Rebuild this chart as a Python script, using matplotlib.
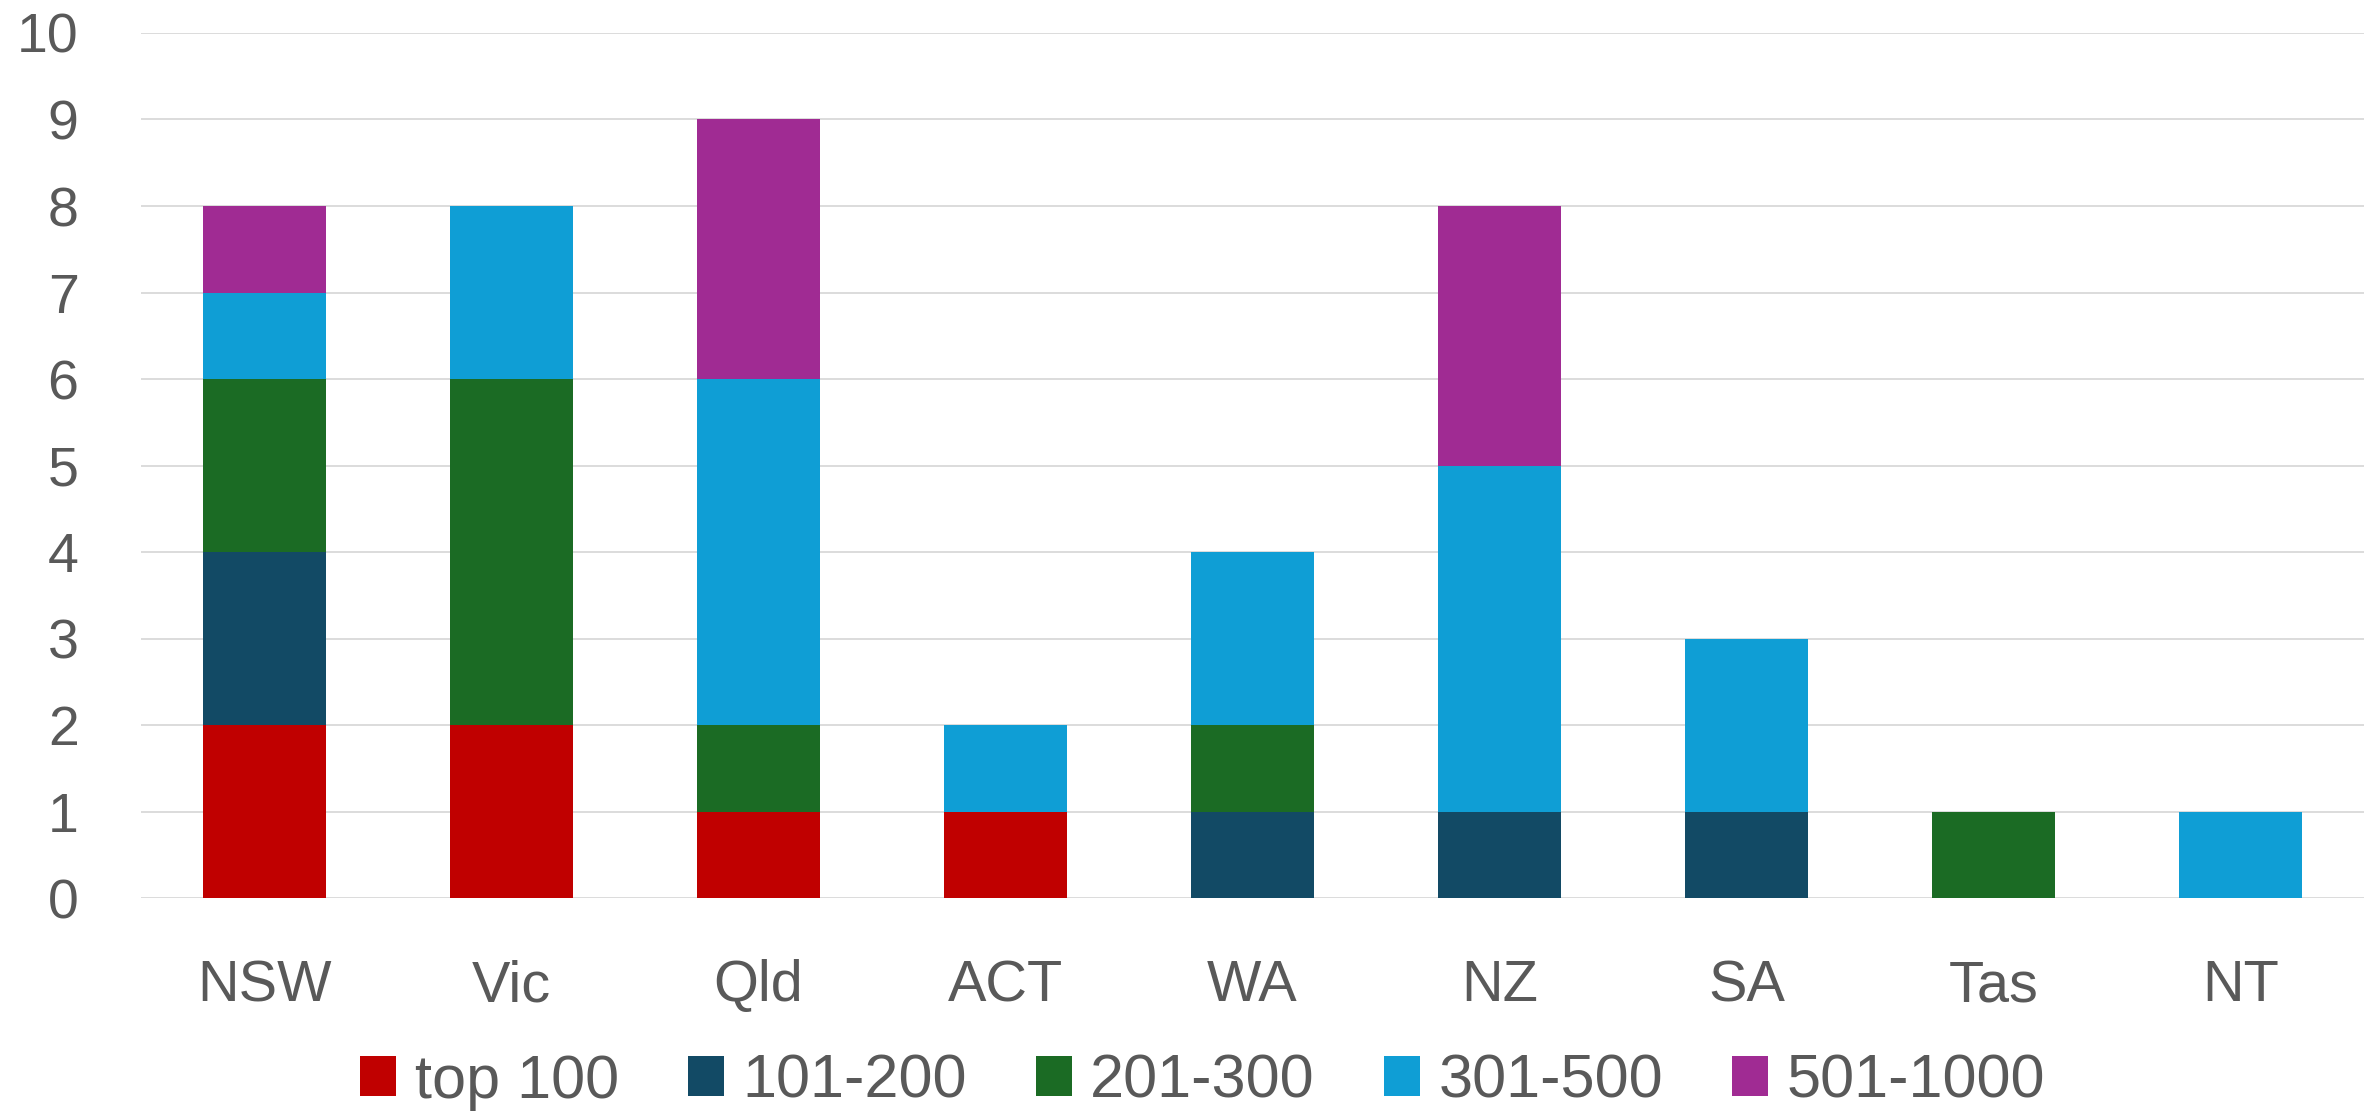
import numpy as np
import matplotlib
matplotlib.use("Agg")
import matplotlib.pyplot as plt

plt.rcParams['font.family'] = ['Liberation Sans', 'DejaVu Sans']

regions = ['NSW', 'Vic', 'Qld', 'ACT', 'WA', 'NZ', 'SA', 'Tas', 'NT']
bands = ['top 100', '101-200', '201-300', '301-500', '501-1000']
top100 = [2, 2, 1, 1, 0, 0, 0, 0, 0]
r101_200 = [2, 0, 0, 0, 1, 1, 1, 0, 0]
r201_300 = [2, 4, 1, 0, 1, 0, 0, 1, 0]
r301_500 = [1, 2, 4, 1, 2, 4, 2, 0, 1]
r501_1000 = [1, 0, 3, 0, 0, 3, 0, 0, 0]
colors = ['#C00000', '#124A65', '#1B6B24', '#0F9ED5', '#A02B93']

text_col = '#595959'
grid_col = '#D9D9D9'

fig = plt.figure(figsize=(23.79, 11.11), dpi=100)
ax = fig.add_axes([0.0593, 0.1917, 0.9344, 0.7786])

x = np.arange(len(regions))
bottom = np.zeros(len(regions))
for name, vals, col in zip(bands, [top100, r101_200, r201_300, r301_500, r501_1000], colors):
    vals = np.array(vals, dtype=float)
    ax.bar(x, vals, 0.5, bottom=bottom, color=col, label=name, zorder=3)
    bottom += vals

ax.set_xlim(-0.5, len(regions) - 0.5)
ax.set_ylim(0, 10)
ax.set_yticks(range(0, 11))
ax.set_xticks(x)
ax.set_xticklabels(regions)
ax.yaxis.grid(True, color=grid_col, linewidth=1.3, zorder=0)
ax.set_axisbelow(True)
for s in ax.spines.values():
    s.set_visible(False)
ax.tick_params(axis='both', length=0, labelcolor=text_col)
ax.tick_params(axis='y', pad=45, labelsize=40)
ax.tick_params(axis='x', pad=44, labelsize=41.5)

fig.legend(loc='center', bbox_to_anchor=(0.5055, 0.026), ncol=5, frameon=False,
           fontsize=44, labelcolor=text_col, handlelength=0.59, handleheight=0.62,
           handletextpad=0.3, columnspacing=1.13)

fig.savefig('out.png', dpi=100, facecolor='white')
